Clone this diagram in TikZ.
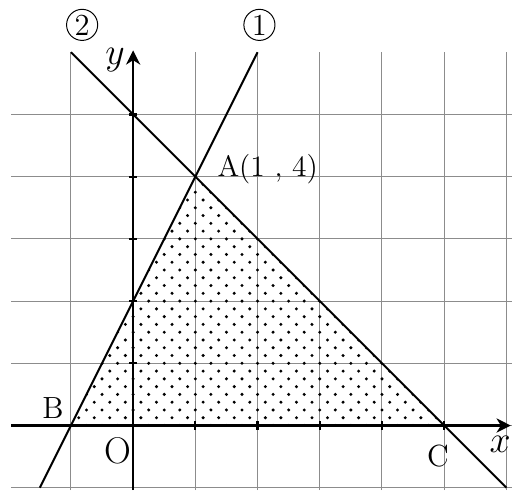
\documentclass[tikz,border=0pt]{standalone}
\usetikzlibrary{arrows.meta}
\begin{document}
\begin{tikzpicture}[x=1cm,y=1cm,
  gridline/.style={black!45, line width=0.45pt},
  axisline/.style={line width=1pt},
  axisarrow/.style={line width=1pt, -{Stealth[length=6.5pt,width=6.5pt,inset=2pt]}},
  graphline/.style={line width=0.9pt},
  lbl/.style={font=\fontsize{13.5}{15}\selectfont, inner sep=0pt},
  midlbl/.style={font=\fontsize{14}{16}\selectfont, inner sep=0pt},
  biglbl/.style={font=\fontsize{17}{19}\selectfont, inner sep=0pt},
  circnum/.style={draw, circle, line width=0.45pt, inner sep=0pt, minimum size=0.5cm, font=\fontsize{14}{16}\selectfont}]
\useasboundingbox (-2.14,-1.08) rectangle (6.09,6.84);
% grid
\foreach \y in {-1,...,5} \draw[gridline] (-1.96,\y) -- (6.09,\y);
\foreach \x in {-1,...,6} \draw[gridline] (\x,-1.04) -- (\x,6);
% key points
\coordinate (A) at (1,4);
\coordinate (B) at (-1,0);
\coordinate (C) at (5,0);
% dotted region
\begin{scope}
\clip (A) -- (B) -- (C) -- cycle;
\foreach \j in {0,...,33} {
  \pgfmathsetmacro\off{mod(\j,2)*0.125}
  \foreach \i in {-4,...,24} {
    \fill (\i*0.25+\off, \j*0.125) circle (0.027);
  }
}
\end{scope}
% axes
\coordinate (xs) at (-1.96,0);
\coordinate (xe) at (6.07,0);
\coordinate (ys) at (0,-1.04);
\coordinate (ye) at (0,6.03);
\draw[axisarrow] (xs) -- (xe);
\draw[axisarrow] (ys) -- (ye);
\foreach \t in {1,...,5} {
  \draw[axisline] (\t,-0.07) -- (\t,0.07);
  \draw[axisline] (-0.07,\t) -- (0.07,\t);
}
% lines
\coordinate (p1) at (-1.5,-1);
\coordinate (q1) at (2,6);
\coordinate (p2) at (-1,6);
\coordinate (q2) at (6,-1);
\draw[graphline] (p1) -- (q1);
\draw[graphline] (p2) -- (q2);
% labels
\node[lbl, anchor=base west] (lA) at (1.35,4) {A(1 , 4)};
\node[midlbl] (lB) at (-1.29,0.28) {B};
\node[midlbl] (lC) at (4.9,-0.49) {C};
\node[biglbl] (lO) at (-0.24,-0.41) {O};
\node[biglbl] (lx) at (5.9,-0.3) {$x$};
\node[biglbl] (ly) at (-0.29,5.88) {$y$};
\node[circnum] (n2) at (-0.82,6.44) {2};
\node[circnum] (n1) at (2.03,6.44) {1};
\end{tikzpicture}
\end{document}
